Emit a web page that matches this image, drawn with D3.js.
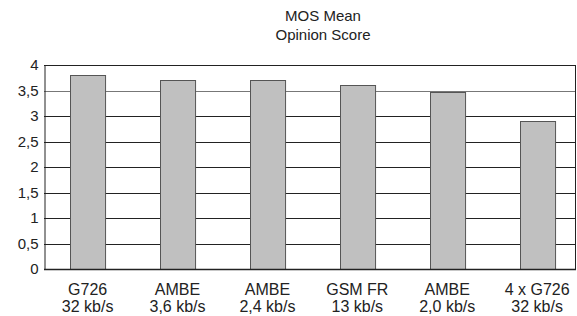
<!DOCTYPE html>
<html>
<head>
<meta charset="utf-8">
<script src="https://cdn.jsdelivr.net/npm/d3@7"></script>
<style>
  body { margin: 0; background: #fff; }
  text { font-family: "Liberation Sans", Arial, sans-serif; fill: #222; }
</style>
</head>
<body>
<div id="chart"></div>
<script>
const codecs = ['G726', 'AMBE', 'AMBE', 'GSM FR', 'AMBE', '4 x G726'];
const rates = ['32 kb/s', '3,6 kb/s', '2,4 kb/s', '13 kb/s', '2,0 kb/s', '32 kb/s'];
const mosValues = [3.81, 3.71, 3.71, 3.60, 3.48, 2.91];
const yTicks = [0, 0.5, 1, 1.5, 2, 2.5, 3, 3.5, 4];
const titleLines = ['MOS Mean', 'Opinion Score'];

const width = 577;
const height = 316;
const margin = { top: 65, right: 1, bottom: 47, left: 44 };

const svg = d3.select('#chart').append('svg')
  .attr('width', width)
  .attr('height', height);

const scaleX = d3.scaleBand()
  .domain(d3.range(codecs.length))
  .range([margin.left, width - margin.right])
  .paddingInner(0.61)
  .paddingOuter(0.264)
  .align(0.55);

const scaleY = d3.scaleLinear()
  .domain([0, 4])
  .range([height - margin.bottom, margin.top]);

const fmt = d => String(d).replace('.', ',');

// gridlines
svg.append('g')
  .selectAll('line')
  .data(yTicks)
  .enter()
  .append('line')
  .attr('x1', margin.left)
  .attr('x2', width - margin.right)
  .attr('y1', d => Math.round(scaleY(d)) + 0.5)
  .attr('y2', d => Math.round(scaleY(d)) + 0.5)
  .attr('stroke', d => d === 3.5 ? '#777' : '#222')
  .attr('stroke-width', 1);

// right border
svg.append('line')
  .attr('x1', width - margin.right - 0.5)
  .attr('x2', width - margin.right - 0.5)
  .attr('y1', scaleY(4))
  .attr('y2', scaleY(0))
  .attr('stroke', '#222');

// bars
svg.append('g')
  .selectAll('rect')
  .data(mosValues)
  .enter()
  .append('rect')
  .attr('x', (d, i) => Math.round(scaleX(i)) + 0.5)
  .attr('y', d => Math.round(scaleY(d)) + 0.5)
  .attr('width', scaleX.bandwidth())
  .attr('height', d => Math.round(scaleY(0)) - Math.round(scaleY(d)))
  .attr('fill', '#c0c0c0')
  .attr('stroke', '#555')
  .attr('stroke-width', 1);

// y axis
const axisY = d3.axisLeft(scaleY)
  .tickValues(yTicks)
  .tickFormat(fmt)
  .tickSize(0)
  .tickPadding(6);

const gY = svg.append('g')
  .attr('transform', `translate(${margin.left + 0.5},0)`)
  .call(axisY);
gY.select('.domain').attr('stroke', '#222');
gY.selectAll('text')
  .style('font-size', '15px')
  .attr('fill', '#222');

// bottom line
svg.append('line')
  .attr('x1', margin.left)
  .attr('x2', width - margin.right)
  .attr('y1', Math.round(scaleY(0)) + 0.5)
  .attr('y2', Math.round(scaleY(0)) + 0.5)
  .attr('stroke', '#222')
  .attr('stroke-width', 1.5);

// category labels
const labels = svg.append('g')
  .selectAll('text')
  .data(codecs)
  .enter()
  .append('text')
  .attr('text-anchor', 'middle')
  .style('font-size', '16px')
  .attr('x', (d, i) => scaleX(i) + scaleX.bandwidth() / 2)
  .attr('y', 295);

labels.append('tspan')
  .text(d => d);

labels.append('tspan')
  .attr('x', (d, i) => scaleX(i) + scaleX.bandwidth() / 2)
  .attr('dy', 17)
  .text((d, i) => rates[i]);

// title
svg.append('g')
  .selectAll('text')
  .data(titleLines)
  .enter()
  .append('text')
  .attr('text-anchor', 'middle')
  .style('font-size', '15px')
  .attr('x', 323)
  .attr('y', (d, i) => 21 + i * 19)
  .text(d => d);
</script>
</body>
</html>
